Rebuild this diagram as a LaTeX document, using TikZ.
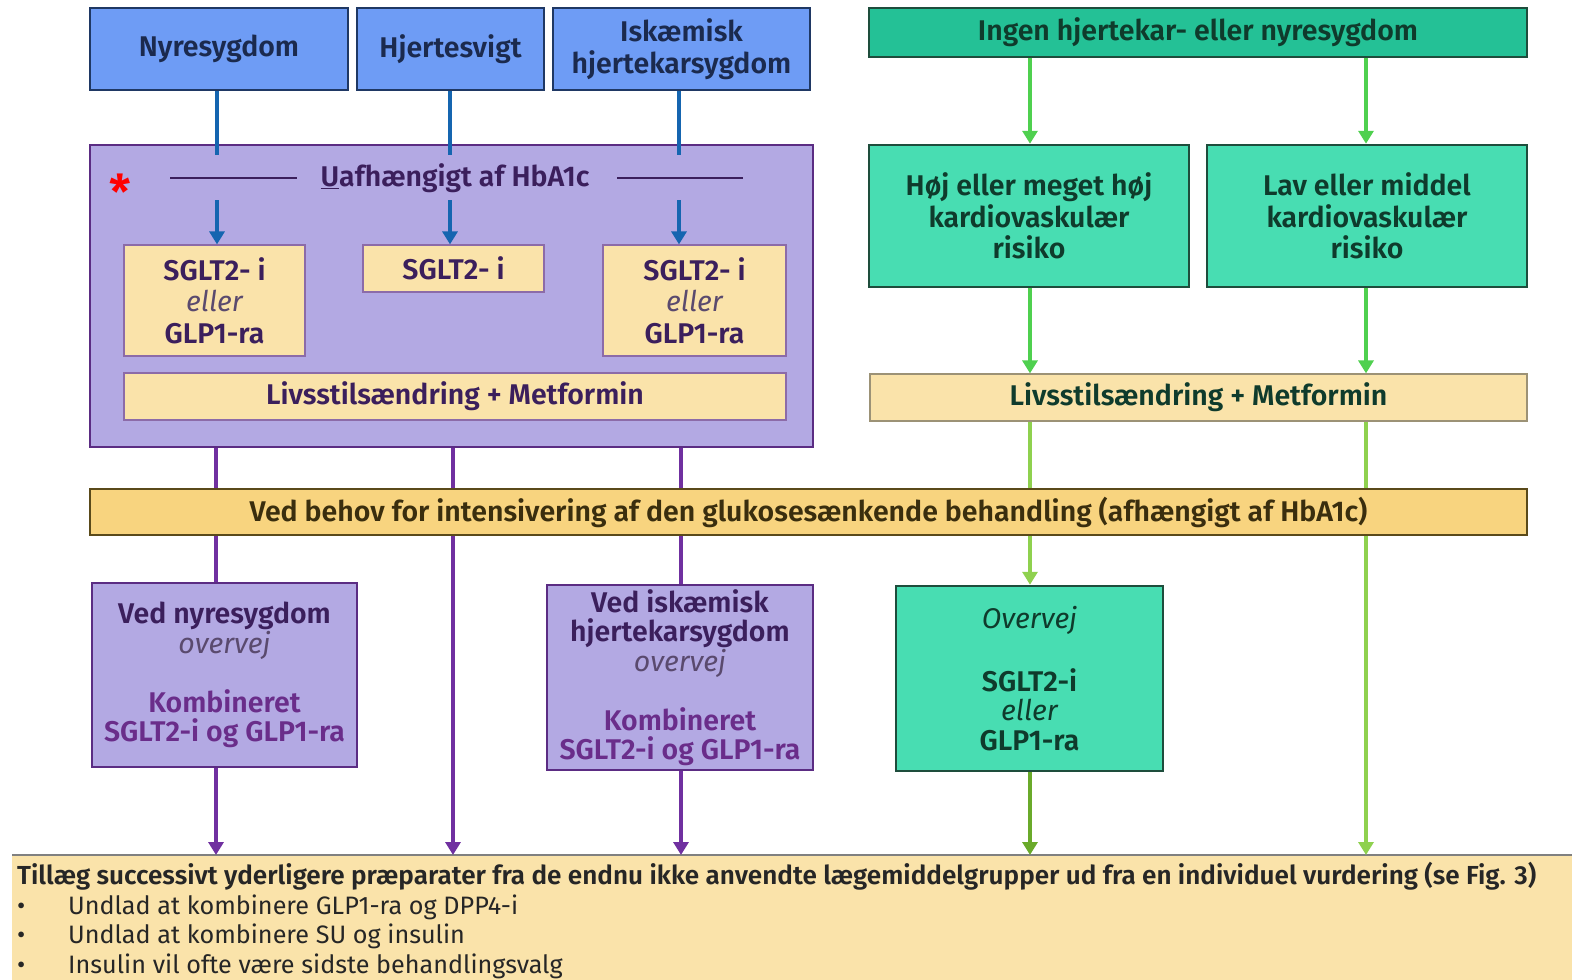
\documentclass[tikz,border=0pt]{standalone}
\usepackage{fontspec}
\setmainfont{Fira Sans}[BoldFont={Fira Sans SemiBold},BoldItalicFont={Fira Sans SemiBold Italic}]
\usetikzlibrary{arrows.meta}

\definecolor{bluefill}{HTML}{6E9CF5}
\definecolor{blueedge}{HTML}{1F3864}
\definecolor{bluetext}{HTML}{1B2A4E}
\definecolor{blueline}{HTML}{1565B0}
\definecolor{purplefill}{HTML}{B3A9E3}
\definecolor{purpleedge}{HTML}{5B2C83}
\definecolor{purpleline}{HTML}{7030A0}
\definecolor{purpletext}{HTML}{3B1F5C}
\definecolor{combitext}{HTML}{6A2D8A}
\definecolor{greytext}{HTML}{5A4A6E}
\definecolor{headgreen}{HTML}{24C196}
\definecolor{boxgreen}{HTML}{48DDB2}
\definecolor{greenedge}{HTML}{1E4D3C}
\definecolor{greentext}{HTML}{0F3B2C}
\definecolor{arrowgreen}{HTML}{4FD04F}
\definecolor{lightgreen}{HTML}{8FD14F}
\definecolor{darkgreen}{HTML}{6AAA2A}
\definecolor{paleyellow}{HTML}{FAE3AA}
\definecolor{bandyellow}{HTML}{F8D47F}
\definecolor{bandedge}{HTML}{5A4A1A}
\definecolor{bandtext}{HTML}{3A2E0E}

\newcommand\fsbox{\fontsize{28.5}{31.5}\selectfont}
\newcommand\fslow{\fontsize{28.5}{29.5}\selectfont}
\newcommand\fsnote{\fontsize{25.2}{29.5}\selectfont}

\begin{document}
\begin{tikzpicture}[x=1pt,y=-1pt,
  box/.style={draw,line width=2.5pt,inner sep=0pt,align=center,font=\fsbox\bfseries},
  bluebox/.style={box,fill=bluefill,draw=blueedge,text=bluetext},
  purplebox/.style={box,fill=purplefill,draw=purpleedge,text=purpletext},
  drugbox/.style={box,line width=1.2pt,fill=paleyellow,draw=purpleedge!70,text=purpletext},
  greenbox/.style={box,fill=boxgreen,draw=greenedge,text=greentext},
  conn/.style={line width=4pt},
  tip/.style={-{Triangle[width=15pt,length=13pt]}}]

  \useasboundingbox (0,0) rectangle (1572,980);

  % top row
  \node[bluebox,minimum width=258,minimum height=82] (nyre) at (219,49) {Nyresygdom};
  \node[bluebox,minimum width=187,minimum height=82] (hjerte) at (450.5,49) {Hjertesvigt};
  \node[bluebox,minimum width=257,minimum height=82] (iskaem) at (681.5,49) {Iskæmisk\\hjertekarsygdom};
  \node[greenbox,fill=headgreen,minimum width=658,minimum height=49] (ingen) at (1198,32.5) {Ingen hjertekar- eller nyresygdom};

  % purple block
  \node[purplebox,minimum width=723,minimum height=302] (blok) at (451.5,296) {};
  \node[text=red,font=\fontsize{48}{48}\selectfont\bfseries] (stjerne) at (120,192) {*};
  \node[text=purpletext,font=\fsbox\bfseries] (hba) at (455,178) {\underline{U}afhængigt af HbA1c};
  \draw[purpletext,line width=2pt] (170,178) -- (297,178);
  \draw[purpletext,line width=2pt] (617,178) -- (743,178);

  \node[drugbox,minimum width=181,minimum height=111] (sgltA) at (214.5,300.5)
    {SGLT2- i\\{\mdseries\itshape\color{greytext}eller}\\GLP1-ra};
  \node[drugbox,minimum width=181,minimum height=47] (sgltB) at (453.5,268.5) {SGLT2- i};
  \node[drugbox,minimum width=183,minimum height=111] (sgltC) at (694.5,300.5)
    {SGLT2- i\\{\mdseries\itshape\color{greytext}eller}\\GLP1-ra};
  \node[drugbox,minimum width=662,minimum height=47] (livsL) at (455,396.5) {Livsstilsændring + Metformin};

  % green column
  \node[greenbox,minimum width=320,minimum height=142] (hoj) at (1029,216) {Høj eller meget høj\\kardiovaskulær\\risiko};
  \node[greenbox,minimum width=320,minimum height=142] (lav) at (1367,216) {Lav eller middel\\kardiovaskulær\\risiko};
  \node[drugbox,draw=bandedge!60,text=greentext,minimum width=657,minimum height=47] (livsR) at (1198.5,397.5) {Livsstilsændring + Metformin};

  % lower boxes
  \node[purplebox,font=\fslow\bfseries,minimum width=265,minimum height=184] (vedNyre) at (224.5,675)
    {Ved nyresygdom\\{\mdseries\itshape\color{greytext}overvej}\\[29.5pt]{\color{combitext}Kombineret}\\{\color{combitext}SGLT2-i og GLP1-ra}};
  \node[purplebox,font=\fslow\bfseries,minimum width=266,minimum height=185] (vedIsk) at (680,677.5)
    {Ved iskæmisk\\hjertekarsygdom\\{\mdseries\itshape\color{greytext}overvej}\\[29.5pt]{\color{combitext}Kombineret}\\{\color{combitext}SGLT2-i og GLP1-ra}};
  \node[greenbox,font=\fslow\bfseries,minimum width=267,minimum height=185] (overvej) at (1029.5,678.5)
    {{\mdseries\itshape Overvej}\\[33pt]SGLT2-i\\{\mdseries\itshape eller}\\GLP1-ra};

  % bottom panel
  \fill[paleyellow] (12,855) rectangle (1572,985);
  \draw[gray,line width=2pt] (12,855) -- (1572,855);
  \coordinate (bund) at (12,855);
  \node[anchor=north west,align=left,inner sep=0pt,font=\fsnote,text=black!85] (tekst) at (17,862)
    {{\fontsize{26.1}{29.5}\selectfont\textbf{Tillæg successivt yderligere præparater fra de endnu ikke anvendte lægemiddelgrupper ud fra en individuel vurdering (se Fig. 3)}}\\
     \makebox[51pt][l]{•}Undlad at kombinere GLP1-ra og DPP4-i\\
     \makebox[51pt][l]{•}Undlad at kombinere SU og insulin\\
     \makebox[51pt][l]{•}Insulin vil ofte være sidste behandlingsvalg};

  % blue connectors
  \coordinate (b1) at (217,155);
  \coordinate (b2) at (450,155);
  \coordinate (b3) at (679,155);
  \draw[conn,blueline] (nyre.south -| b1) -- (b1);
  \draw[conn,blueline] (hjerte.south -| b2) -- (b2);
  \draw[conn,blueline] (iskaem.south -| b3) -- (b3);
  \coordinate (p1) at (217,200);
  \coordinate (p2) at (450,200);
  \coordinate (p3) at (679,200);
  \draw[conn,blueline,tip] (p1) -- (p1 |- sgltA.north);
  \draw[conn,blueline,tip] (p2) -- (p2 |- sgltB.north);
  \draw[conn,blueline,tip] (p3) -- (p3 |- sgltC.north);

  % green connectors
  \coordinate (g1) at (1030,0);
  \coordinate (g2) at (1366,0);
  \draw[conn,arrowgreen,tip] (ingen.south -| g1) -- (hoj.north -| g1);
  \draw[conn,arrowgreen,tip] (ingen.south -| g2) -- (lav.north -| g2);
  \draw[conn,arrowgreen,tip] (hoj.south -| g1) -- (livsR.north -| g1);
  \draw[conn,arrowgreen,tip] (lav.south -| g2) -- (livsR.north -| g2);
  \draw[conn,lightgreen,tip] (livsR.south -| g1) -- (overvej.north -| g1);
  \draw[conn,lightgreen,tip] (livsR.south -| g2) -- (bund -| g2);
  \draw[conn,darkgreen,tip] (overvej.south -| g1) -- (bund -| g1);

  % purple connectors
  \coordinate (v1) at (216,0);
  \coordinate (v2) at (453,0);
  \coordinate (v3) at (681,0);
  \draw[conn,purpleline] (blok.south -| v1) -- (vedNyre.north -| v1);
  \draw[conn,purpleline,tip] (blok.south -| v2) -- (bund -| v2);
  \draw[conn,purpleline] (blok.south -| v3) -- (vedIsk.north -| v3);
  \draw[conn,purpleline,tip] (vedNyre.south -| v1) -- (bund -| v1);
  \draw[conn,purpleline,tip] (vedIsk.south -| v3) -- (bund -| v3);

  % intensivering band
  \node[box,fill=bandyellow,draw=bandedge,text=bandtext,minimum width=1437,minimum height=46] (band) at (808.5,512)
    {Ved behov for intensivering af den glukosesænkende behandling (afhængigt af HbA1c)};
\end{tikzpicture}
\end{document}
